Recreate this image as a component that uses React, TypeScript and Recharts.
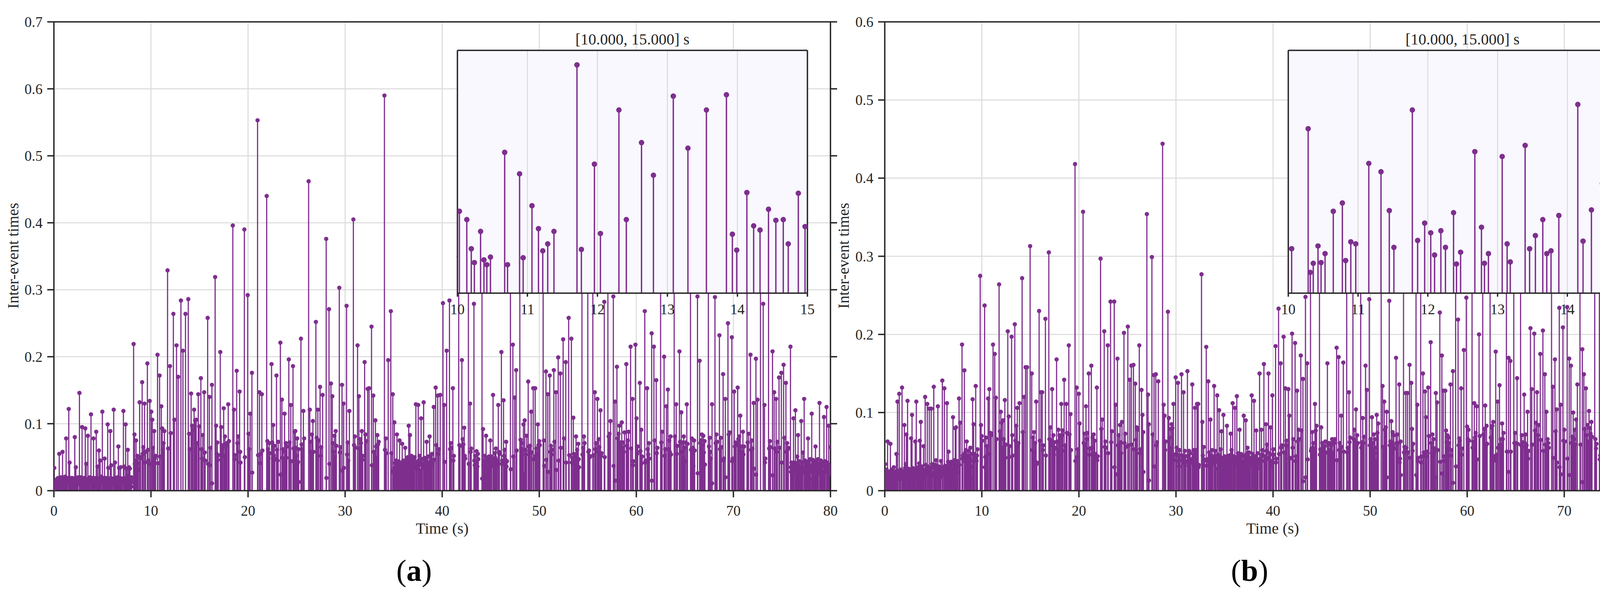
import React from "react";
import { ComposedChart, Scatter, ErrorBar, XAxis, YAxis, CartesianGrid } from "recharts";

const PURPLE = "#7e2f8e";
const AXIS = "#262626";
const GRID = "#dadada";
const FONT = '"Liberation Serif", "Times New Roman", Times, serif';

const timeTicks = [0, 10, 20, 30, 40, 50, 60, 70, 80];
const insetTicks = [10, 11, 12, 13, 14, 15];
const ticksA = [0, 0.1, 0.2, 0.3, 0.4, 0.5, 0.6, 0.7];
const ticksB = [0, 0.1, 0.2, 0.3, 0.4, 0.5, 0.6];

// Each row: [time of a key event (s), its inter-event time (ms), then the inter-event times (ms) of the events that follow it]
const eventsA_00_10 = [
  [0.034, 34, 4, 3, 6, 4, 7, 5, 8, 6, 9, 7, 10, 8, 11, 9, 12, 10, 13, 11, 14, 12, 15, 13, 16, 12, 15, 14, 17, 13, 16, 15, 18, 14, 17, 16, 19, 15, 18, 14, 15],
  [0.55, 55, 14, 17, 12, 19, 15, 13, 18, 16, 11, 17, 14, 20, 13, 16, 15, 12, 18, 14, 9],
  [0.89, 58, 16, 13, 19, 15, 12, 18, 14, 17, 20, 13, 16, 15, 11, 18, 14, 17, 13, 21, 10],
  [1.26, 78, 15, 18, 12, 17, 14, 19, 13, 16, 11, 13],
  [1.53, 122, 14, 17, 12, 42, 16, 13, 18, 15, 11, 19, 14, 16, 13, 17, 12, 18, 15, 14, 16, 13, 19, 12, 17, 15, 14, 18, 13, 16, 15, 12, 17, 14, 18, 15],
  [2.15, 80, 13, 17, 15, 19, 12, 35, 14, 16, 18, 13, 15, 17, 12, 16, 14, 19, 13, 15, 11, 10, 20],
  [2.63, 146, 15, 19, 13, 17, 14, 16, 12, 18, 15, 20, 16],
  [2.9, 95, 17, 14, 19, 13, 16, 15, 18, 12, 17, 14, 16, 13, 19, 15, 9, 10],
  [3.23, 93, 14, 18, 12, 16, 40, 13, 15, 17, 12, 16, 15],
  [3.5, 82, 16, 13, 18, 15, 12, 17, 14, 19, 13, 16, 15, 18, 20],
  [3.82, 114, 15, 18, 13, 16, 14, 19, 12, 17, 15, 13, 16, 14],
  [4.08, 78, 13, 17, 15, 19, 12, 16, 14, 18, 13, 15, 17, 12, 11],
  [4.36, 88, 16, 14, 19, 13, 17, 15, 36, 12, 18, 14, 16, 13, 17],
  [4.64, 60, 14, 17, 13, 18, 15, 45, 12, 16, 14, 19, 13, 15, 21],
  [4.99, 118, 17, 13, 16, 14, 19, 12, 15, 18, 13, 16, 14, 15],
  [5.22, 48, 15, 18, 13, 17, 14, 16, 12, 19, 15, 13, 17, 14, 16, 12, 10],
  [5.54, 99, 14, 16, 34, 13, 17, 15, 12, 18, 14, 16, 12],
  [5.81, 89, 16, 13, 19, 15, 38, 12, 17, 14, 18, 13, 16, 15, 13, 10],
  [6.16, 121, 15, 18, 13, 17, 14, 16, 42, 12, 19, 15, 13, 17, 14, 16, 18, 12, 15, 13, 17, 14, 16, 18, 20, 16, 14],
  [6.64, 66, 16, 13, 18, 34, 14, 17, 12, 15, 19, 13, 16, 14, 35, 12, 17, 15, 13, 18, 14, 16, 12, 11, 18, 16],
  [7.16, 119, 18, 14, 36, 15, 17, 13, 18],
  [7.39, 99, 15, 19, 13, 17, 33, 14, 16, 18, 14],
  [7.61, 61, 16, 22, 13, 18, 14, 35, 17, 15, 19, 13, 33, 16, 14, 18, 15, 17, 13, 19, 16, 12, 20, 6],
  [8.21, 219],
  [8.3, 84, 40, 45],
  [8.46, 75, 45, 38, 52, 30, 41, 33],
  [8.83, 132, 48, 50],
  [9.09, 162, 55, 65],
  [9.34, 130, 42, 58],
  [9.63, 190, 61, 45],
  [9.87, 134, 40],
];

const eventsA_10_20 = [
  [10.028, 118, 106, 64, 44, 89, 48, 41, 52, 203, 41, 172, 51, 126, 93, 61, 71, 89, 329, 63, 186, 86, 264, 106, 217, 170, 284, 209, 264, 286, 85, 62, 145, 97, 91, 121, 105, 106, 71, 144, 96],
  [15.14, 168, 62, 48, 83],
  [15.48, 147, 57, 45],
  [15.84, 258, 40],
  [16.02, 140, 38, 64],
  [16.28, 158, 11],
  [16.61, 319, 97, 55, 72, 46, 53],
  [17.14, 207, 95, 68, 64],
  [17.49, 123, 52, 81, 69],
  [17.76, 68, 71],
  [17.96, 129, 74],
  [18.43, 396, 121, 47, 53],
  [18.83, 179, 71, 81],
  [19.13, 148, 58, 42],
  [19.62, 390, 50, 292, 85, 62, 115],
];

const eventsA_20_30 = [
  [20.4, 176, 27],
  [20.98, 553, 53],
  [21.18, 147, 41, 55],
  [21.42, 144, 60],
  [21.92, 440, 74, 62, 48, 71, 56],
  [22.42, 189, 72],
  [22.59, 98, 53, 67, 48],
  [22.93, 172, 61, 45, 73],
  [23.33, 221, 24],
  [23.49, 136, 49, 62, 44],
  [23.76, 115, 58, 71, 49, 66],
  [24.2, 196, 72],
  [24.4, 128, 44],
  [24.63, 186, 63, 88],
  [24.87, 89, 64, 52, 78, 41, 43],
  [25.21, 62, 13],
  [25.45, 227, 69, 62],
  [25.7, 119, 78],
  [26.24, 462, 121, 73, 58, 84],
  [26.68, 104, 58],
  [26.99, 252, 79],
  [27.19, 121, 75],
  [27.42, 155, 52, 65],
  [27.68, 143],
  [28.05, 376, 19],
  [28.34, 271, 40],
  [28.54, 160],
  [28.68, 141, 71, 58, 82, 50],
  [29.03, 89, 67],
  [29.4, 303, 57, 65],
  [29.68, 158, 30],
  [29.84, 130, 34],
];

const eventsA_30_40 = [
  [30.15, 276, 54, 72, 45],
  [30.44, 119],
  [30.85, 405, 68, 81, 64],
  [31.28, 217],
  [31.42, 141, 63, 77, 71],
  [31.72, 89, 46, 52],
  [32.01, 192, 84, 74],
  [32.32, 152],
  [32.47, 153],
  [32.72, 245, 38],
  [32.9, 142, 58, 57],
  [33.12, 105, 66, 49, 83, 69],
  [33.46, 73],
  [34.05, 590, 61, 78, 56],
  [34.44, 195],
  [34.71, 268, 56],
  [34.91, 144, 28, 30],
  [35.07, 102, 34, 41, 29, 45, 37],
  [35.34, 84, 31, 44, 27, 38, 29, 26],
  [35.61, 75, 36, 28, 42, 33, 25, 36],
  [35.88, 70, 39, 27, 45, 31, 38, 30, 36],
  [36.19, 64, 33, 41, 28, 47, 35, 29, 50],
  [36.55, 97, 47],
  [36.68, 83, 38, 45, 31, 52, 36, 29, 44, 40, 33, 48, 35, 50],
  [37.29, 129, 37, 42, 33],
  [37.53, 128, 45, 38, 52, 27, 30],
  [37.83, 108, 41, 47, 40],
  [38.09, 132, 36, 49, 32, 44, 38, 38],
  [38.4, 73, 43, 35, 51, 30, 28, 32],
  [38.7, 81, 40, 52, 34, 46, 38, 55, 40],
  [39.13, 125, 46],
  [39.33, 154, 68],
  [39.54, 142, 55, 62],
  [39.8, 143],
];

const eventsA_40_50 = [
  [40.08, 280, 128, 43],
  [40.46, 209],
  [40.75, 284, 62, 71, 64],
  [41.1, 153, 45, 52],
  [41.7, 350, 68, 67],
  [42.03, 195, 77, 69],
  [42.27, 94, 52, 48],
  [42.7, 330, 40],
  [42.87, 130, 58, 63],
  [43.27, 279, 45, 38, 52, 41, 35],
  [43.54, 59, 42, 36, 55, 47],
  [44.1, 380, 18],
  [44.21, 92, 38, 45, 33, 52, 30, 30],
  [44.52, 82, 41, 36, 48, 29, 44, 33, 51, 38, 45],
  [44.96, 75, 44, 51, 42],
  [45.24, 143, 39, 48, 35, 56, 49],
  [45.53, 63, 37, 45, 40],
  [45.78, 128, 58, 55],
  [46.1, 207, 40, 45],
  [46.32, 135, 52, 61, 38, 46],
  [46.59, 73, 36, 44],
  [47.03, 360, 32],
  [47.28, 218, 51],
  [47.47, 139],
  [47.62, 180, 60],
  [48.0, 320, 76, 63, 71, 61],
  [48.37, 99, 25],
  [48.5, 105, 61, 54, 82],
  [48.86, 163, 66, 59, 67],
  [49.17, 118, 57],
  [49.38, 153, 47],
  [49.58, 153, 52, 63, 56],
  [49.85, 99, 68, 74, 68],
];

const eventsA_50_60 = [
  [50.4, 340, 75, 37],
  [50.69, 178, 46],
  [50.88, 144, 28],
  [51.08, 172, 58, 67, 54, 61],
  [51.5, 180, 73],
  [51.72, 147, 31],
  [51.95, 199, 45],
  [52.17, 175, 64],
  [52.46, 226, 78],
  [52.73, 192, 42],
  [53.03, 258, 53],
  [53.31, 227, 42, 49],
  [53.51, 109, 55, 48, 52, 44],
  [53.79, 81, 52, 61, 45, 70, 47, 35],
  [54.4, 300, 54, 64, 81, 71],
  [55.0, 330, 58, 60],
  [55.17, 52, 50],
  [55.52, 300, 53],
  [55.72, 147, 62, 71],
  [55.99, 137, 58, 77, 65],
  [56.31, 120, 52, 56],
  [56.7, 282, 50],
  [57.07, 320, 81, 85],
  [57.34, 104],
  [57.63, 290, 37],
  [57.8, 133, 15],
  [58.0, 185, 78, 85],
  [58.26, 97, 66, 72],
  [58.5, 102, 64, 72, 58, 87],
  [58.97, 189, 67, 75],
  [59.2, 88],
  [59.41, 215, 63],
  [59.61, 137, 38, 44],
  [59.91, 218, 108, 55, 66],
];

const eventsA_60_70 = [
  [60.36, 161, 59],
  [60.51, 91, 41, 51],
  [60.87, 268, 42, 45],
  [61.11, 153, 62, 54, 71, 48],
  [61.58, 235, 15],
  [61.81, 215, 75],
  [62.05, 165, 56, 64],
  [62.5, 330, 72, 88],
  [62.86, 200, 52, 62],
  [63.1, 126],
  [63.25, 151, 62, 75, 58, 81, 54],
  [63.9, 320, 81],
  [64.11, 129, 55, 67],
  [64.44, 208, 73],
  [64.63, 117, 58, 72, 49, 81, 64, 44],
  [65.07, 72],
  [65.2, 129, 70],
  [65.58, 310, 61, 78, 55, 64, 37],
  [65.95, 75, 60],
  [66.3, 290, 26],
  [66.52, 194, 71, 75],
  [66.75, 84, 68, 82, 57, 74, 39],
  [67.42, 350, 66, 79, 58, 48],
  [67.8, 129, 11],
  [68.1, 289, 71, 84, 73],
  [68.56, 232, 62, 79, 65],
  [68.94, 174, 45, 48],
  [69.17, 137, 20],
  [69.44, 250, 84, 87],
  [69.84, 229, 44, 48],
];

const eventsA_70_80 = [
  [70.08, 148, 66, 72, 68],
  [70.44, 154, 77, 81],
  [70.71, 112, 58, 66, 58],
  [70.98, 88, 54, 66],
  [71.4, 300, 72, 85],
  [71.76, 203, 61, 75, 63],
  [72.09, 131, 33],
  [72.32, 197, 24],
  [72.48, 136],
  [72.79, 310],
  [73.07, 279],
  [73.2, 128, 42, 48],
  [73.62, 330, 63, 74, 65],
  [74.03, 208, 23],
  [74.2, 147, 63],
  [74.4, 137, 58, 73],
  [74.7, 169, 64],
  [74.94, 176, 42],
  [75.17, 188, 79],
  [75.41, 161, 58, 71, 62, 64],
  [75.88, 215, 35, 28, 42, 31, 39, 27],
  [76.19, 108, 38, 42],
  [76.39, 120, 32, 41, 27, 36, 51],
  [76.66, 83, 29, 38, 44, 25, 33, 27, 30],
  [76.99, 104, 36, 42, 28, 57],
  [77.29, 137, 34, 27, 45, 31, 38, 29, 42, 36, 40],
  [77.69, 78, 31, 44, 26, 38, 33, 47, 29, 17],
  [78.07, 115, 38, 29, 46, 33, 27, 41, 35, 44, 31],
  [78.46, 66, 27, 36, 42, 30, 38, 25, 47, 34],
  [78.87, 131, 33, 41, 28, 45, 36, 30, 39, 27, 42, 29],
  [79.33, 110, 36, 44, 28, 37],
  [79.6, 125, 31, 42, 40],
  [79.81, 97, 38, 29, 33, 25],
  [80.0, 65],
];

const eventsB_00_10 = [
  [0.034, 34, 5, 9, 4, 12, 7, 15, 10, 18, 13, 22, 16, 27, 20, 15],
  [0.29, 63, 16, 21, 13, 24, 18, 15, 22, 14, 20, 17, 23, 12, 15],
  [0.58, 60, 18, 23, 15, 26, 20, 14, 19, 27, 16, 22, 17, 25, 13, 21, 24, 18, 30, 15, 20, 17, 23, 19, 16, 14, 22, 18, 21, 15, 25],
  [1.2, 47],
  [1.31, 114, 18, 21, 17],
  [1.49, 124, 19, 26, 15, 22, 18, 27, 16, 15],
  [1.78, 132, 21, 16, 25, 18, 23, 14, 20, 19],
  [2.02, 84, 22, 17, 29, 15, 21, 34],
  [2.23, 72],
  [2.35, 115, 20, 25, 16, 23, 18, 28, 15, 22, 24, 17, 21, 16, 26, 22],
  [2.71, 67],
  [2.81, 97, 23, 18, 29, 16, 22, 26, 20, 15, 24, 19, 28, 27],
  [3.14, 63],
  [3.25, 114, 19, 26, 22, 15, 28, 21, 17, 24, 30, 18, 25, 16, 35],
  [3.61, 64, 12],
  [3.71, 88, 22, 28, 18, 24, 31, 20, 26, 15, 21, 18],
  [3.99, 57, 24, 26],
  [4.16, 120, 27, 33, 22, 27],
  [4.38, 111, 24, 31, 21, 29],
  [4.59, 105, 26, 29, 19, 21],
  [4.79, 105, 30, 23, 34, 18, 22],
  [5.05, 133, 22, 29, 18, 33, 26, 30, 33],
  [5.28, 39, 26, 31, 25],
  [5.47, 108, 21, 27, 17, 31, 24, 20, 29, 16, 25, 22, 30, 19, 38],
  [5.93, 141, 25, 30, 24],
  [6.14, 131, 25, 21, 32, 23, 28, 29],
  [6.41, 112, 24, 30, 19, 37],
  [6.57, 50, 23, 29, 20, 34, 25, 21, 31, 27, 18, 37, 24, 28, 22, 27],
  [7.03, 94, 27, 34, 24, 39, 26],
  [7.26, 80],
  [7.34, 81, 29, 35, 23, 38, 34, 33],
  [7.65, 118, 33],
  [7.77, 87],
  [7.96, 187, 41, 45],
  [8.2, 154, 48, 37, 52, 40],
  [8.44, 63, 32, 45, 38, 51, 36, 40],
  [8.72, 38, 42, 55, 38, 47, 31],
  [9.05, 117, 15],
  [9.15, 85, 39, 47],
  [9.37, 134, 44, 38, 45],
  [9.55, 53],
  [9.83, 275, 84, 70],
];

const eventsB_10_20 = [
  [10.048, 64, 237, 30, 43, 68, 44, 57, 118, 130, 47, 74, 71, 187, 175, 119, 66, 264, 76, 101, 87, 55, 90, 66, 116, 42, 59, 204, 95, 43, 57, 197, 71, 45, 213, 64, 83, 106, 57, 61, 112, 272, 75, 120, 158, 158, 313],
  [15.14, 150, 52, 68, 41, 75, 49, 61],
  [15.6, 114, 34, 36],
  [15.9, 230, 64],
  [16.09, 126],
  [16.22, 126, 52, 58],
  [16.55, 220, 45],
  [16.9, 305, 66, 81, 63],
  [17.24, 130, 58, 71, 46, 62, 55],
  [17.7, 168, 63, 52, 78, 45, 71, 70],
  [18.19, 111, 71, 77],
  [18.48, 142, 51, 58],
  [18.7, 111, 74],
  [18.96, 186, 72],
  [19.13, 98, 52],
  [19.6, 418, 38],
  [19.77, 132, 43, 53],
  [19.99, 124, 86],
];

const eventsB_20_30 = [
  [20.43, 357, 61, 73, 58],
  [20.73, 108, 66, 74],
  [21.02, 150, 46, 54],
  [21.28, 160, 55, 68, 47, 72, 44],
  [21.63, 64, 41, 47],
  [21.85, 132, 39, 44],
  [22.23, 297, 79],
  [22.4, 91],
  [22.61, 204, 56, 63, 55],
  [22.97, 186, 48],
  [23.26, 242, 62, 76],
  [23.64, 242, 30],
  [23.78, 110, 21],
  [23.97, 169, 58, 71, 57],
  [24.24, 84, 62, 48, 88],
  [24.64, 202, 61, 73, 56],
  [25.04, 210, 58],
  [25.24, 142],
  [25.4, 160, 59],
  [25.62, 161, 53],
  [25.81, 137, 65, 81, 78],
  [26.22, 186, 48, 53],
  [26.45, 129, 97, 75, 24],
  [27.0, 354, 123, 85, 13],
  [27.52, 299, 72],
  [27.74, 148, 31],
  [27.92, 149, 58, 62],
  [28.18, 140],
  [28.62, 444, 110, 96, 52, 63],
  [29.17, 229, 93, 68, 79, 54, 85, 80],
  [29.74, 111, 39, 46],
  [29.97, 145, 47, 55],
];

const eventsB_30_40 = [
  [30.21, 138, 38, 45, 31, 52, 45],
  [30.57, 149, 39, 45],
  [30.78, 126, 42, 35, 51, 38, 44, 37],
  [31.18, 153, 37, 45, 32, 51, 40, 36, 48, 39, 36],
  [31.68, 136, 41, 36, 52, 45],
  [31.96, 106, 47, 52],
  [32.17, 111],
  [32.29, 111, 30, 33],
  [32.63, 277, 88, 45, 38, 56, 40, 39],
  [33.12, 184, 32, 38],
  [33.33, 140, 41, 49, 39],
  [33.55, 91, 38, 45, 33, 52, 41, 37],
  [33.93, 134, 44, 36, 51, 39, 28],
  [34.25, 122, 41, 46],
  [34.44, 103, 36, 44, 31, 53],
  [34.68, 76, 33, 42, 38],
  [34.89, 97, 31, 38, 27, 44, 35, 29, 40, 33],
  [35.25, 83, 34, 28, 41, 36, 30, 45, 27, 39, 27],
  [35.63, 73, 46, 52],
  [35.84, 112, 38, 44, 42],
  [36.07, 106, 36, 43],
  [36.27, 121, 41, 33, 48, 37, 43],
  [36.55, 78, 36, 42, 29, 47, 38, 33, 44, 31, 34],
  [36.98, 96, 38, 45, 37],
  [37.19, 90, 41, 36, 48],
  [37.37, 55, 38, 44, 31, 49, 36, 42, 33, 35],
  [37.8, 122, 39, 47, 39],
  [38.04, 115, 42, 36, 44, 31],
  [38.27, 77, 41, 35, 48, 37, 29],
  [38.61, 150, 34, 41, 37],
  [38.8, 78, 46, 52],
  [39.06, 162, 38, 44, 43],
  [39.27, 85, 51, 59],
  [39.53, 150, 42, 48, 39],
  [39.74, 81, 31, 37],
  [39.93, 122, 46, 53, 46],
];

const eventsB_40_50 = [
  [40.26, 185, 36, 41],
  [40.57, 233, 47],
  [40.78, 163, 55, 58],
  [41.09, 197, 49],
  [41.27, 131, 58, 64, 58],
  [41.58, 130, 96, 41, 42],
  [41.96, 201, 55, 66],
  [42.27, 189, 38, 44],
  [42.48, 128, 63, 78, 66],
  [42.86, 173, 77],
  [43.08, 143, 12],
  [43.34, 248, 17],
  [43.52, 163, 40],
  [43.86, 300, 51, 54],
  [44.04, 75, 54, 61, 54],
  [44.32, 111, 77, 83],
  [44.78, 300, 46, 53],
  [44.96, 81, 52, 61, 44, 47],
  [45.22, 56, 48, 57, 63, 49],
  [45.6, 163, 61],
  [45.72, 59, 52, 44, 61, 39, 58, 47, 66, 41, 49],
  [46.24, 63, 61, 66],
  [46.55, 183, 39],
  [46.76, 171, 52, 61, 51],
  [47.02, 96, 56],
  [47.24, 164, 50],
  [47.59, 300, 49, 55],
  [47.82, 126, 62, 68],
  [48.23, 280, 66, 78, 62],
  [48.54, 104, 58, 71, 61],
  [49.03, 300, 55, 62],
  [49.24, 93, 61, 69],
  [49.53, 160],
  [49.66, 129],
  [49.91, 245, 58, 66, 62],
];

const eventsB_50_60 = [
  [50.19, 94, 61, 53, 72, 48, 66, 55, 38],
  [50.68, 97, 74, 86],
  [51.14, 300],
  [51.28, 134, 56],
  [51.45, 114, 78, 81],
  [51.71, 101, 17],
  [51.97, 243, 58, 63],
  [52.18, 89, 62, 75, 58, 71, 54],
  [52.67, 170, 61, 72, 61],
  [53.0, 136, 36, 41],
  [53.14, 63, 20],
  [53.44, 280, 49, 56],
  [53.67, 125, 55],
  [53.85, 125, 49],
  [54.06, 161, 42],
  [54.24, 138, 79, 51, 60],
  [54.73, 300, 20],
  [54.86, 110, 38, 42],
  [55.21, 270, 36, 44],
  [55.44, 150, 44, 49],
  [55.66, 127, 94, 44, 50],
  [55.98, 132, 70],
  [56.24, 190, 61, 48, 72, 55, 66, 49, 54],
  [56.77, 125, 17],
  [56.9, 113, 52],
  [57.18, 228, 37],
  [57.39, 173, 22],
  [57.54, 128, 38, 44],
  [57.75, 128, 77, 62, 71, 55, 68, 61],
  [58.28, 136, 45, 52],
  [58.53, 153, 10],
  [58.81, 270, 31],
  [59.06, 219, 58, 67, 64],
  [59.38, 131, 46, 54],
  [59.66, 180],
  [59.91, 247, 82, 66, 78, 64],
];

const eventsB_60_70 = [
  [60.5, 300, 55, 63],
  [60.73, 112, 68, 74],
  [60.98, 108, 40],
  [61.22, 200, 70],
  [61.6, 310, 72, 79],
  [61.86, 109, 57],
  [62.0, 83, 60],
  [62.36, 300, 68, 81, 83],
  [62.68, 88, 38, 44],
  [62.94, 178, 40, 46],
  [63.14, 114, 55],
  [63.33, 135, 59, 66, 59],
  [63.6, 86, 66, 74],
  [64.04, 300, 50],
  [64.26, 170, 24],
  [64.45, 166, 50],
  [64.8, 300, 61, 74, 61],
  [65.14, 144, 60],
  [65.5, 300, 58, 71, 62, 56],
  [65.87, 123, 61, 72, 58, 58],
  [66.22, 101, 41, 51],
  [66.52, 208],
  [66.65, 130, 59],
  [66.91, 201, 77, 87],
  [67.2, 126, 71, 84],
  [67.53, 175, 65],
  [67.8, 205, 51],
  [68.0, 149, 59],
  [68.16, 101, 58, 66, 61, 55],
  [68.69, 290],
  [68.83, 133, 42],
  [69.04, 168, 76],
  [69.22, 104, 36],
  [69.49, 234, 30],
  [69.63, 110, 21],
  [69.86, 209, 64, 78, 63],
];

const eventsB_70_80 = [
  [70.3, 235, 41],
  [70.51, 169, 20],
  [70.69, 160, 61, 69],
  [70.92, 100, 66, 78, 59, 91],
  [71.35, 136],
  [71.62, 270, 59],
  [71.86, 181, 11],
  [72.02, 149, 79],
  [72.23, 131, 71, 84, 63],
  [72.55, 102, 80, 73, 88, 69],
  [73.14, 280, 66, 54, 60],
  [73.62, 300, 40, 45],
  [73.88, 175, 50],
  [74.18, 250, 51],
  [74.41, 179],
  [74.61, 200, 44, 47],
  [74.82, 119, 51, 53],
  [75.0, 76, 28, 33, 30],
  [75.25, 159, 34, 38],
  [75.44, 118, 31, 42, 27, 36, 22],
  [75.74, 142, 38, 44],
  [75.98, 158, 33, 41, 28, 25],
  [76.22, 113],
  [76.37, 151, 29, 36, 41, 27, 33, 38, 25, 44, 31, 26],
  [76.81, 110, 35, 42, 45],
  [77.07, 138, 39, 43],
  [77.25, 98, 31, 27, 38, 24, 42, 33, 36],
  [77.57, 89, 29, 34, 27, 33],
  [77.75, 57, 32, 27, 41, 25, 36, 30, 44, 30],
  [78.17, 155, 28, 35, 24, 39, 31, 42, 27, 39],
  [78.51, 75, 28],
  [78.7, 162, 33, 26, 41, 29, 42],
  [78.94, 69, 31, 38, 27, 42, 29, 33],
  [79.26, 120, 34, 27, 41, 30, 36, 25, 44, 29, 38, 32, 28],
  [79.7, 76, 32, 41, 27, 36, 29, 26],
  [79.95, 59, 30],
];

type Ev = { t: number; v: number; stem: number[] };

// event time = previous event time + inter-event time
function expand(blocks: number[][][]): Ev[] {
  const out: Ev[] = [];
  blocks.forEach((rows) =>
    rows.forEach((row) => {
      let t = row[0];
      for (let i = 1; i < row.length; i++) {
        if (i > 1) t += row[i] / 1000;
        const v = row[i] / 1000;
        out.push({ t, v, stem: [v, 0] });
      }
    })
  );
  return out;
}

const seriesA = expand([eventsA_00_10, eventsA_10_20, eventsA_20_30, eventsA_30_40, eventsA_40_50, eventsA_50_60, eventsA_60_70, eventsA_70_80]);
const seriesB = expand([eventsB_00_10, eventsB_10_20, eventsB_20_30, eventsB_30_40, eventsB_40_50, eventsB_50_60, eventsB_60_70, eventsB_70_80]);

const tickFont = { fill: AXIS, fontSize: 37, fontFamily: FONT };
const axisStyle = { stroke: AXIS, strokeWidth: 3.5 };
const blank = () => "";

const dotMain = (p: any) => <circle cx={p.cx} cy={p.cy} r={5.5} fill={PURPLE} />;
const dotInset = (p: any) => <circle cx={p.cx} cy={p.cy} r={7} fill={PURPLE} />;

function MainPanel({ data, yMax, yTicks, left }: { data: Ev[]; yMax: number; yTicks: number[]; left: number }) {
  return (
    <div style={{ position: "absolute", left, top: 0 }}>
      <ComposedChart width={2156} height={1357} margin={{ top: 6, right: 0, bottom: 0, left: 0 }}>
        <CartesianGrid xAxisId="b" yAxisId="l" stroke={GRID} strokeWidth={2.5} />
        <XAxis xAxisId="b" type="number" dataKey="t" domain={[0, 80]} ticks={timeTicks} interval={0} allowDataOverflow height={100}
          tickSize={17} tickMargin={21} axisLine={axisStyle} tickLine={axisStyle} tick={tickFont} />
        <XAxis xAxisId="t" orientation="top" type="number" domain={[0, 80]} ticks={timeTicks} interval={0} allowDataOverflow height={50}
          tickSize={17} axisLine={axisStyle} tickLine={axisStyle} tickFormatter={blank} />
        <YAxis yAxisId="l" type="number" dataKey="v" domain={[0, yMax]} ticks={yTicks} interval={0} allowDataOverflow width={138}
          tickSize={17} tickMargin={12} axisLine={axisStyle} tickLine={axisStyle} tick={tickFont} />
        <YAxis yAxisId="r" orientation="right" type="number" domain={[0, yMax]} ticks={yTicks} interval={0} allowDataOverflow width={30}
          tickSize={17} axisLine={axisStyle} tickLine={axisStyle} tickFormatter={blank} />
        <Scatter xAxisId="b" yAxisId="l" data={data} dataKey="v" shape={dotMain} isAnimationActive={false}>
          <ErrorBar dataKey="stem" direction="y" width={0} stroke={PURPLE} strokeWidth={3} isAnimationActive={false} />
        </Scatter>
      </ComposedChart>
    </div>
  );
}

function Inset({ data, left, plotWidth }: { data: Ev[]; left: number; plotWidth: number }) {
  const pts = data.filter((d) => d.t >= 9.999 && d.t <= 15.001);
  return (
    <div style={{ position: "absolute", left: left - 50, top: 68.8 }}>
      <ComposedChart width={plotWidth + 100} height={752} margin={{ top: 0, right: 30, bottom: 0, left: 30 }}>
        <CartesianGrid xAxisId="b" yAxisId="l" horizontal={false} fill="#f9f8fe" fillOpacity={1} stroke={GRID} strokeWidth={2.5} />
        <XAxis xAxisId="b" type="number" dataKey="t" domain={[10, 15]} ticks={insetTicks} interval={0} allowDataOverflow height={70}
          tickSize={9} tickMargin={19} axisLine={axisStyle} tickLine={axisStyle} tick={tickFont} />
        <XAxis xAxisId="t" orientation="top" type="number" domain={[10, 15]} ticks={insetTicks} interval={0} allowDataOverflow height={60}
          tickSize={9} axisLine={axisStyle} tickLine={axisStyle} tickFormatter={blank} />
        <YAxis yAxisId="l" type="number" dataKey="v" domain={[0, 0.35]} allowDataOverflow width={20} tick={false} tickLine={false} axisLine={axisStyle} />
        <YAxis yAxisId="r" orientation="right" type="number" domain={[0, 0.35]} allowDataOverflow width={20} tick={false} tickLine={false} axisLine={axisStyle} />
        <Scatter xAxisId="b" yAxisId="l" data={pts} dataKey="v" shape={dotInset} isAnimationActive={false}>
          <ErrorBar dataKey="stem" direction="y" width={0} stroke={PURPLE} strokeWidth={3.5} isAnimationActive={false} />
        </Scatter>
      </ComposedChart>
    </div>
  );
}

export default function App() {
  return (
    <div style={{ position: "absolute", left: 0, top: 0, width: 4291, height: 1514, background: "#fff", overflow: "hidden" }}>
      <MainPanel data={seriesA} yMax={0.7} yTicks={ticksA} left={0} />
      <Inset data={seriesA} left={1171} plotWidth={896} />
      <MainPanel data={seriesB} yMax={0.6} yTicks={ticksB} left={2127} />
      <Inset data={seriesB} left={3298} plotWidth={893} />
      <svg width={4291} height={1514} style={{ position: "absolute", left: 0, top: 0, pointerEvents: "none" }} fontFamily={FONT}>
        <text x={1619} y={114} textAnchor="middle" fontSize={40} fill={AXIS}>[10.000, 15.000] s</text>
        <text x={3744} y={114} textAnchor="middle" fontSize={40} fill={AXIS}>[10.000, 15.000] s</text>
        <text transform="translate(47,655) rotate(-90)" textAnchor="middle" fontSize={40} fill={AXIS}>Inter-event times</text>
        <text transform="translate(2173,655) rotate(-90)" textAnchor="middle" fontSize={40} fill={AXIS}>Inter-event times</text>
        <text x={1132} y={1367} textAnchor="middle" fontSize={40} fill={AXIS}>Time (s)</text>
        <text x={3258} y={1367} textAnchor="middle" fontSize={40} fill={AXIS}>Time (s)</text>
        <text x={1060} y={1488} textAnchor="middle" fontSize={78} fill="#000">(<tspan fontWeight="bold">a</tspan>)</text>
        <text x={3199} y={1488} textAnchor="middle" fontSize={78} fill="#000">(<tspan fontWeight="bold">b</tspan>)</text>
      </svg>
    </div>
  );
}
